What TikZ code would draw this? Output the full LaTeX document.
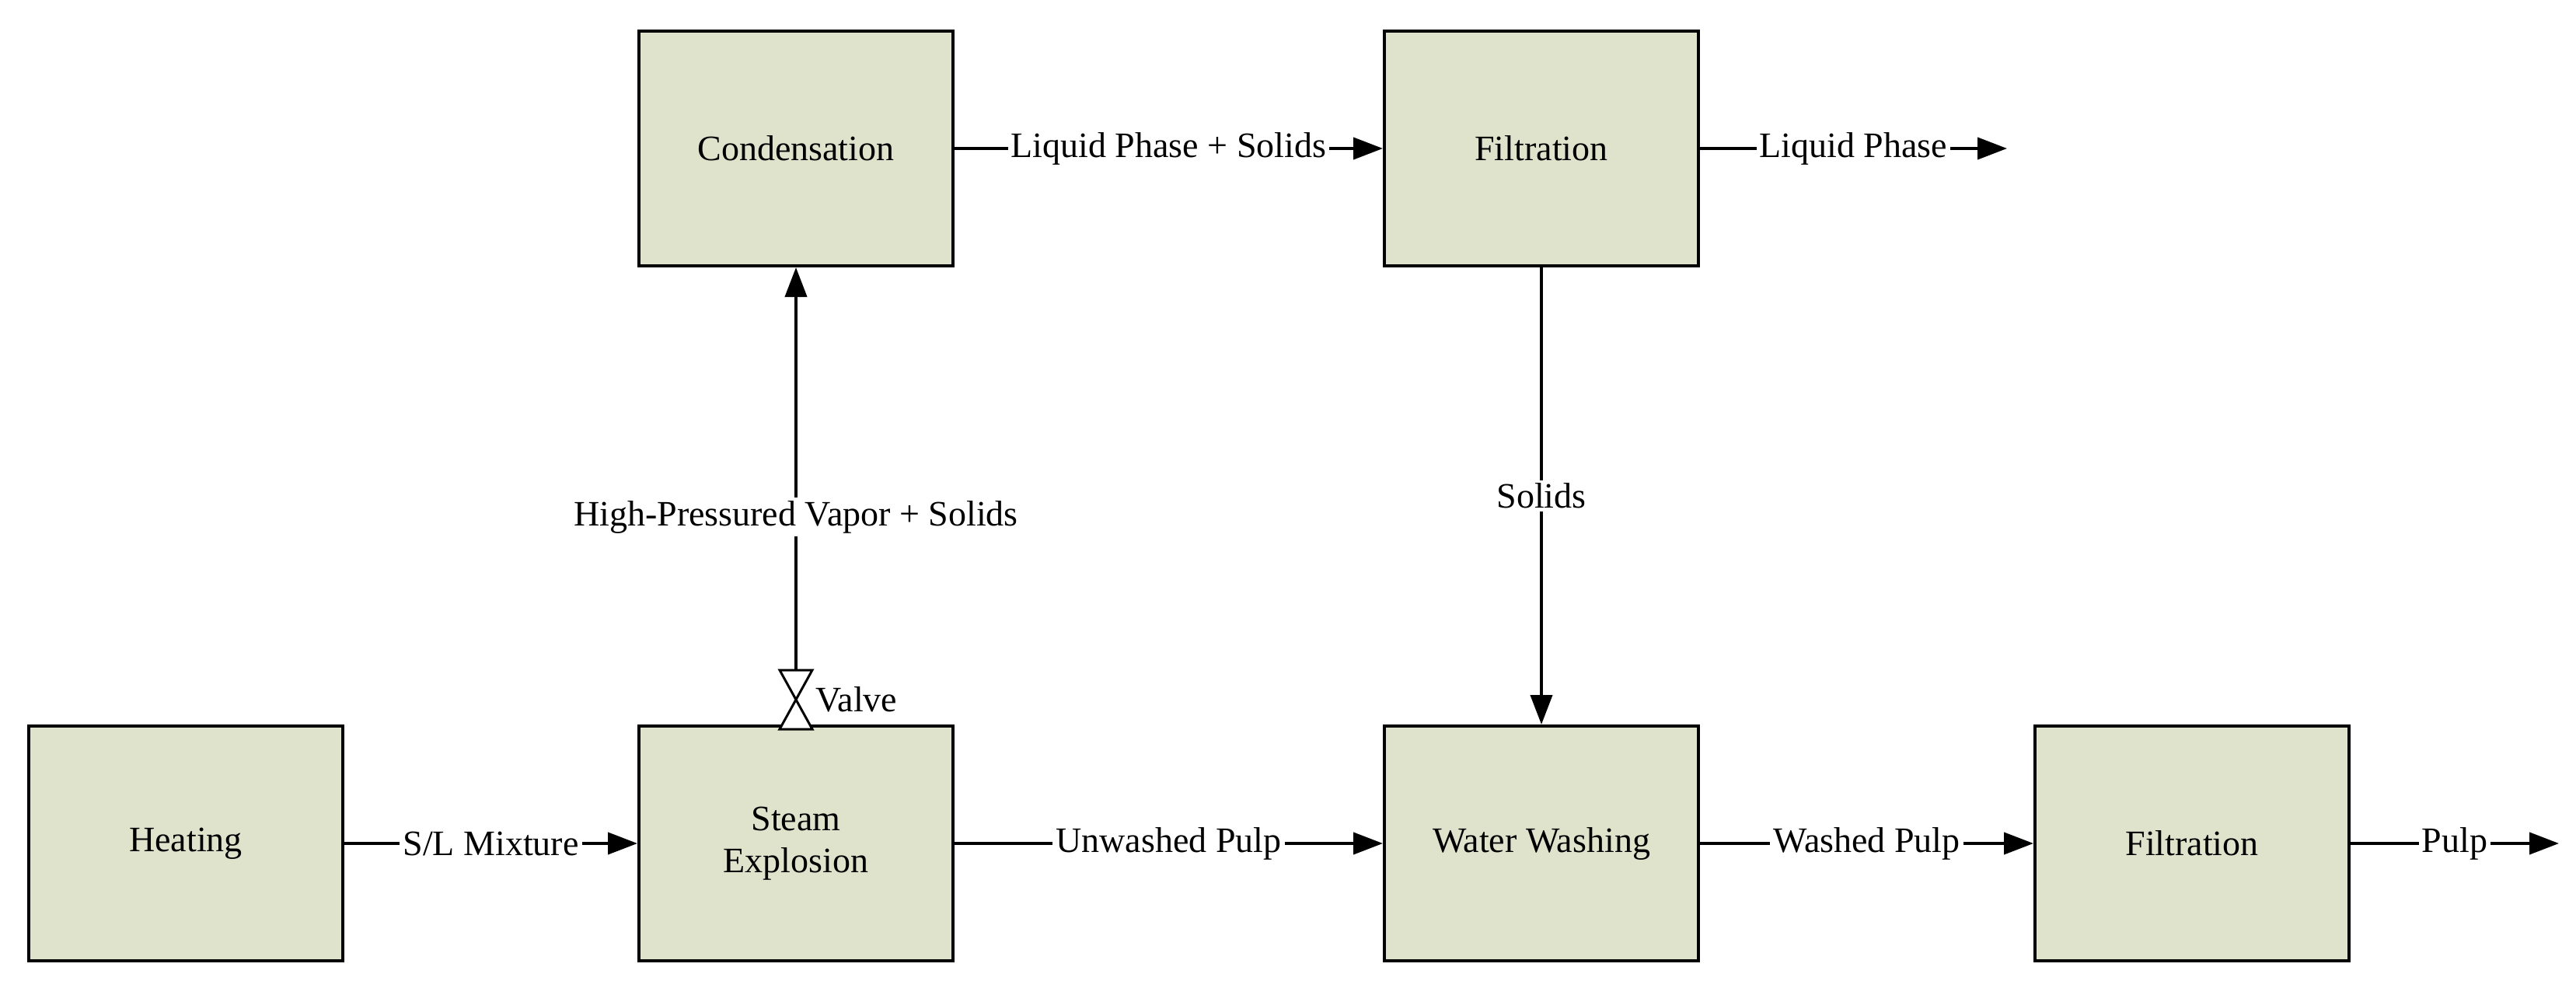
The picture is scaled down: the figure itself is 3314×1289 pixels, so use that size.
\documentclass[tikz,border=0pt]{standalone}
\usepackage{fontspec}
\setmainfont{Liberation Serif}
\usetikzlibrary{arrows.meta}
\begin{document}
\begin{tikzpicture}[x=1pt,y=-1pt,
  box/.style={draw,line width=4pt,fill={rgb,255:red,223;green,227;blue,204},minimum width=404pt,minimum height=302pt,align=center,font=\fontsize{46}{54}\selectfont},
  conn/.style={line width=4pt,-{Triangle[length=38pt,width=28pt]}},
  lbl/.style={fill=white,inner sep=4pt,font=\fontsize{46}{54}\selectfont}]
\useasboundingbox (0,0) rectangle (3314,1289);
\node[box] (heat) at (239,1085) {Heating};
\node[box] (steam) at (1024,1085) {Steam\\Explosion};
\node[box] (cond) at (1024,191) {Condensation};
\node[box] (filt1) at (1983,191) {Filtration};
\node[box] (wash) at (1983,1085) {Water Washing};
\node[box] (filt2) at (2820,1085) {Filtration};
\coordinate (lpend) at (2582,191);
\coordinate (pend) at (3292,1085);
\draw[conn] (heat) -- node[lbl]{S/L Mixture} (steam);
\draw[conn] (steam) -- node[lbl]{Unwashed Pulp} (wash);
\draw[conn] (wash) -- node[lbl]{Washed Pulp} (filt2);
\draw[conn] (filt2) -- node[lbl]{Pulp} (pend);
\draw[conn] (cond) -- node[lbl]{Liquid Phase + Solids} (filt1);
\draw[conn] (filt1) -- node[lbl]{Liquid Phase} (lpend);
\draw[conn] (filt1) -- node[lbl]{Solids} (wash);
% valve
\coordinate (vtop) at (1024,862);
\draw[line width=3pt,fill=white] (1003,862) -- (1045,862) -- (1003,938) -- (1045,938) -- cycle;
\node[anchor=west,font=\fontsize{46}{54}\selectfont] (vlbl) at (1046,900) {Valve};
\draw[conn] (vtop) -- node[lbl,pos=0.38]{High-Pressured Vapor + Solids} (cond);
\end{tikzpicture}
\end{document}
